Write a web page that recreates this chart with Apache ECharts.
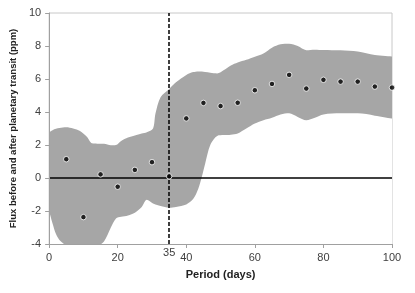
<!DOCTYPE html>
<html>
<head>
<meta charset="utf-8">
<script src="https://cdn.jsdelivr.net/npm/echarts@6/dist/echarts.min.js"></script>
<style>html,body{margin:0;padding:0;background:#fff}#c{width:415px;height:293px}</style>
</head>
<body>
<div id="c"></div>
<script>
// Data points
var periods = [5,10,15,20,25,30,35,40,45,50,55,60,65,70,75,80,85,90,95,100];
var flux = [1.14,-2.37,0.22,-0.53,0.49,0.96,0.1,3.61,4.55,4.36,4.56,5.32,5.7,6.25,5.42,5.95,5.84,5.84,5.54,5.48];
// Uncertainty band
var bandX = [0,1,2,3,5,7,9,11,12.5,14,16,18,19.5,21,23,25,27,28.5,30.3,31,32.5,35,37,40,42,43.5,44.5,45.5,47,49,51,53,55,57.5,60,62.5,65,67.5,70,72.5,75,77.5,80,85,90,95,100];
var bandUpper = [2.78,2.9,2.98,3.03,3.07,3.0,2.85,2.5,2.1,2.08,2.07,1.98,2.0,2.25,2.45,2.58,2.7,2.78,3.0,3.9,4.9,5.4,5.8,6.25,6.42,6.46,6.45,6.42,6.38,6.34,6.55,6.82,7.0,7.16,7.35,7.55,7.9,8.1,8.14,8.0,7.75,7.78,7.76,7.74,7.67,7.45,7.36];
var bandLower = [-2.0,-2.75,-3.4,-3.75,-4.1,-4.3,-4.4,-4.4,-4.3,-4.15,-3.85,-3.0,-2.45,-2.35,-2.27,-2.1,-1.75,-1.32,-1.55,-1.6,-1.7,-1.8,-1.75,-1.6,-1.28,-0.65,0.05,0.87,2.0,2.55,2.6,2.62,2.7,3.0,3.3,3.5,3.65,3.85,3.92,3.7,3.5,3.65,3.85,3.92,3.92,3.78,3.6];
var xTicks = {min:0, max:100, interval:20};
var yTicks = {min:-4, max:10, interval:2};
var markerPeriod = 35;

var upperData = bandX.map(function(x,i){return [x, bandUpper[i]];});
var lowerData = bandX.map(function(x,i){return [x, bandLower[i]];});
var pts = periods.map(function(x,i){return [x, flux[i]];});

var chart = echarts.init(document.getElementById('c'), null, {renderer:'canvas'});
var font = 'Liberation Sans';
chart.setOption({
  animation:false,
  grid:{left:49, right:23, top:13, bottom:49, show:true, borderColor:'#c8c8c8', borderWidth:1, backgroundColor:'transparent'},
  xAxis:{type:'value', min:xTicks.min, max:xTicks.max, interval:xTicks.interval, z:10,
    name:'Period (days)', nameLocation:'middle', nameGap:25,
    nameTextStyle:{fontFamily:font, fontWeight:'bold', fontSize:11, color:'#222'},
    axisLine:{show:true, onZero:false, lineStyle:{color:'#a0a0a0', width:1}},
    axisTick:{show:true, inside:false, length:4, lineStyle:{color:'#a0a0a0'}},
    axisLabel:{fontFamily:font, fontSize:11, color:'#404040', margin:8},
    splitLine:{show:false}},
  yAxis:{type:'value', min:yTicks.min, max:yTicks.max, interval:yTicks.interval, z:10,
    name:'Flux before and after planetary transit (ppm)', nameLocation:'middle', nameGap:26,
    nameTextStyle:{fontFamily:font, fontWeight:'bold', fontSize:9.5, color:'#222'},
    axisLine:{show:true, onZero:false, lineStyle:{color:'#a0a0a0', width:1}},
    axisTick:{show:true, inside:false, length:4, lineStyle:{color:'#a0a0a0'}},
    axisLabel:{fontFamily:font, fontSize:11, color:'#404040', margin:8},
    splitLine:{show:false}},
  series:[
    {type:'line', data:upperData, symbol:'none', smooth:0.3, z:1,
      lineStyle:{width:0, opacity:0}, areaStyle:{color:'#a6a6a6', opacity:1, origin:'start'}, silent:true},
    {type:'line', data:lowerData, symbol:'none', smooth:0.3, z:1,
      lineStyle:{width:0, opacity:0}, areaStyle:{color:'#ffffff', opacity:1, origin:'start'}, silent:true},
    {type:'scatter', data:pts, symbol:'circle', symbolSize:5.5, z:5,
      itemStyle:{color:'#000', borderColor:'#fff', borderWidth:1},
      markLine:{silent:true, symbol:'none', animation:false,
        data:[
          {yAxis:0, lineStyle:{color:'#000', width:1.5, type:'solid'}, label:{show:false}},
          {xAxis:markerPeriod, lineStyle:{color:'#000', width:1.5, type:[4,2]},
            label:{show:true, position:'start', formatter:String(markerPeriod), fontFamily:font, fontSize:11, color:'#404040', distance:3}}
        ]}}
  ]
});
</script>
</body>
</html>
